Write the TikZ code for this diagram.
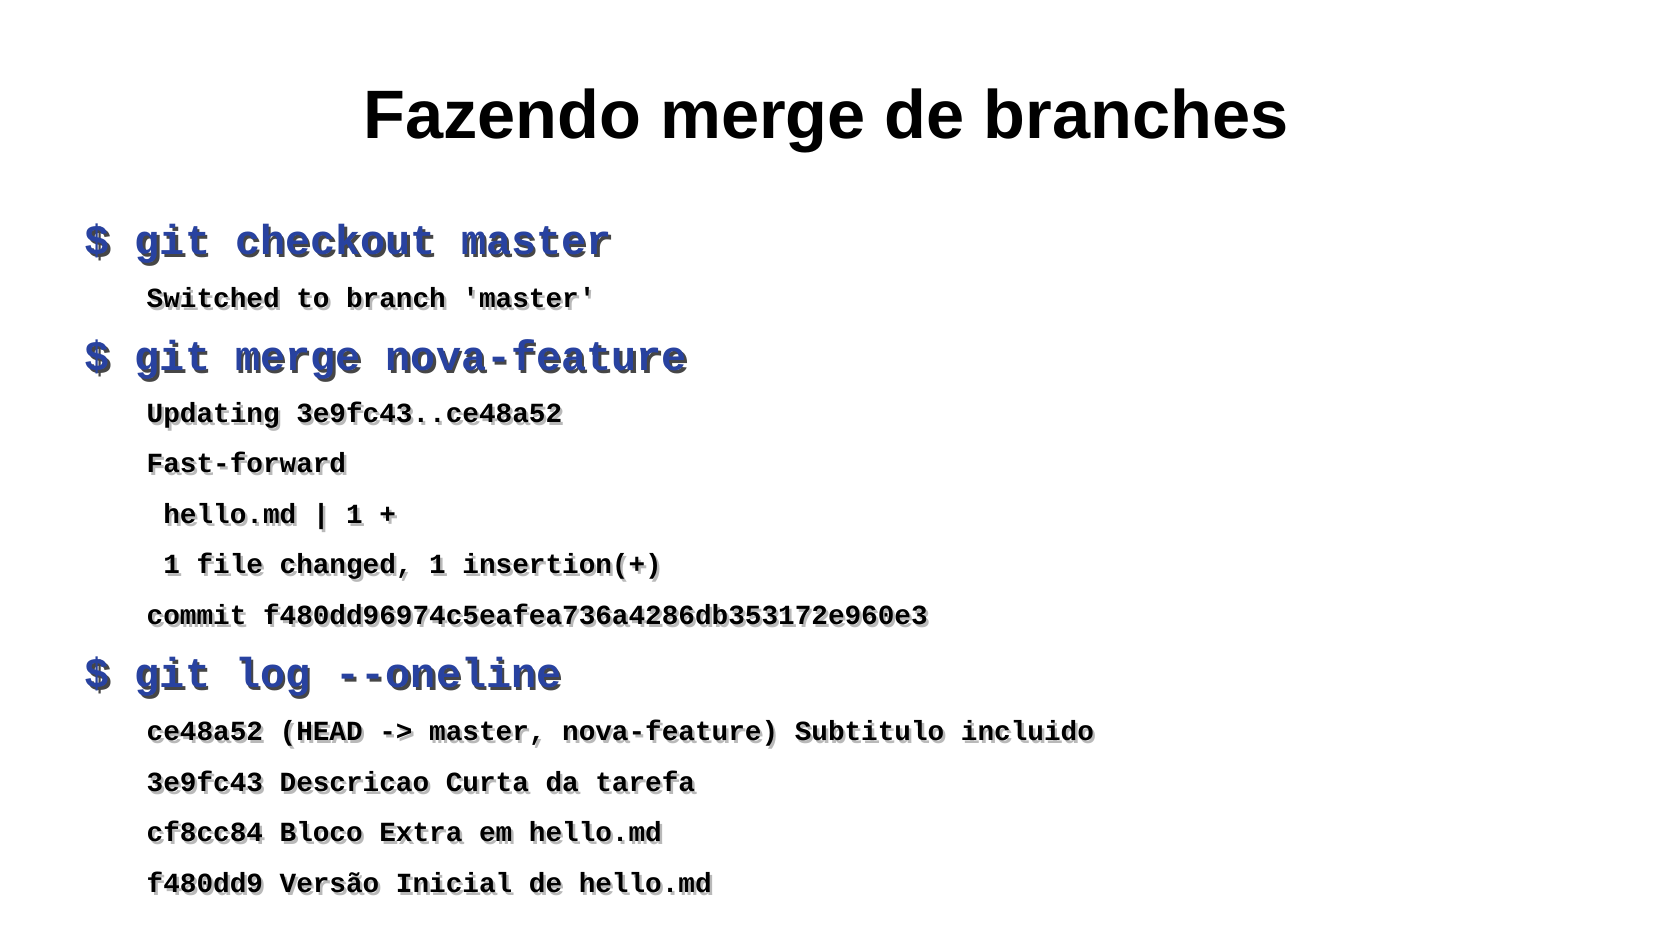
\documentclass[tikz,border=0pt]{standalone}
\usepackage{fontspec}
\newfontfamily\titlefont{Liberation Sans}
\newfontfamily\codefont{Liberation Mono}[Ligatures=TeXOff]
\definecolor{cmdblue}{RGB}{40,66,160}
\definecolor{cmdshadow}{RGB}{70,70,70}
\definecolor{outshadow}{RGB}{185,185,185}
\newcommand\sombra[2]{\makebox[0pt][l]{\kern0.7pt\raisebox{-0.7pt}{\color{#1}#2}}#2}
\tikzset{
	titulo/.style={anchor=base, inner sep=0pt, font=\titlefont\bfseries\fontsize{19.5}{23}\selectfont},
	cmd/.style={anchor=base west, inner sep=0pt, text=cmdblue, font=\codefont\bfseries\fontsize{11.9}{14}\selectfont},
	saida/.style={anchor=base west, inner sep=0pt, font=\codefont\bfseries\fontsize{7.88}{9}\selectfont}
}
\begin{document}
\begin{tikzpicture}
		\useasboundingbox[fill=white] (0, 0) rectangle (16.54, 9.30);

		\node[titulo] (titulo) at (8.26, 7.91) {Fazendo merge de branches};

		\node[cmd] (cmd1) at (0.84, 6.75) {\sombra{cmdshadow}{\$ git checkout master}};
		\node[cmd] (cmd2) at (0.84, 5.59) {\sombra{cmdshadow}{\$ git merge nova-feature}};
		\node[cmd] (cmd3) at (0.84, 2.42) {\sombra{cmdshadow}{\$ git log --oneline}};

		\foreach \y/\t [count=\i] in {6.22/{Switched to branch 'master'},
				5.07/{Updating 3e9fc43..ce48a52},
				4.57/{Fast-forward},
				4.06/{\ hello.md | 1 +},
				3.56/{\ 1 file changed, 1 insertion(+)},
				3.05/{commit f480dd96974c5eafea736a4286db353172e960e3},
				1.89/{ce48a52 (HEAD -> master, nova-feature) Subtitulo incluido},
				1.38/{3e9fc43 Descricao Curta da tarefa},
				0.88/{cf8cc84 Bloco Extra em hello.md},
				0.37/{f480dd9 Versão Inicial de hello.md}}{
				\node[saida] (linha\i) at (1.46, \y) {\sombra{outshadow}{\t}};
			}
	\end{tikzpicture}
\end{document}
